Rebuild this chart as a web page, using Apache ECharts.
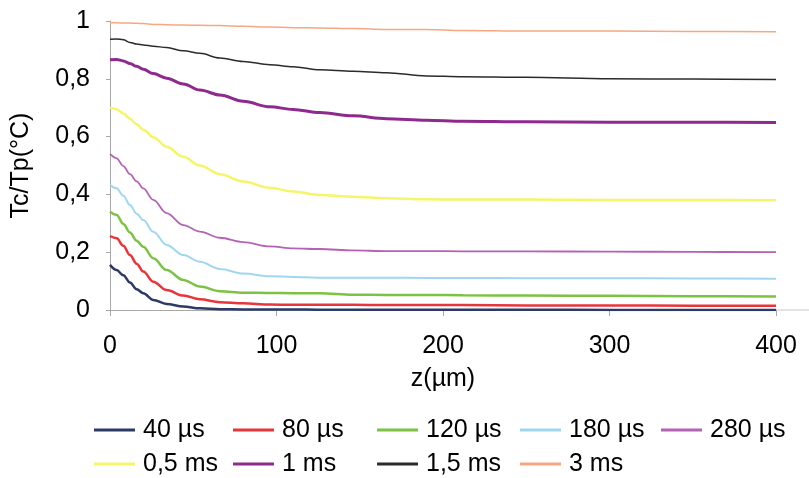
<!DOCTYPE html>
<html>
<head>
<meta charset="utf-8">
<script src="https://cdn.jsdelivr.net/npm/echarts@6/dist/echarts.min.js"></script>
<style>
html,body{margin:0;padding:0;background:#fff;}
#chart{width:809px;height:478px;}
</style>
</head>
<body>
<div id="chart"></div>
<script>
// z positions (µm)
const zValues = [0, 4, 8, 12, 16, 20, 26, 34, 44, 54, 66, 80, 96, 110, 126, 146, 166, 190, 212, 250, 300, 350, 400];

const seriesNames = ['40 µs', '80 µs', '120 µs', '180 µs', '280 µs', '0,5 ms', '1 ms', '1,5 ms', '3 ms'];

const s40us  = [0.156, 0.138, 0.120, 0.095, 0.072, 0.058, 0.035, 0.021, 0.012, 0.006, 0.003, 0.002, 0.002, 0.002, 0.001, 0.001, 0.001, 0.001, 0.001, 0.001, 0.000, 0.000, 0.000];
const s80us  = [0.256, 0.248, 0.222, 0.190, 0.160, 0.133, 0.098, 0.069, 0.050, 0.037, 0.027, 0.023, 0.019, 0.018, 0.018, 0.018, 0.017, 0.017, 0.017, 0.016, 0.016, 0.015, 0.015];
const s120us = [0.340, 0.329, 0.298, 0.268, 0.240, 0.219, 0.179, 0.138, 0.104, 0.081, 0.065, 0.060, 0.059, 0.058, 0.058, 0.053, 0.052, 0.052, 0.051, 0.050, 0.049, 0.048, 0.047];
const s180us = [0.433, 0.421, 0.395, 0.363, 0.333, 0.311, 0.271, 0.225, 0.190, 0.167, 0.142, 0.126, 0.117, 0.114, 0.112, 0.112, 0.112, 0.111, 0.111, 0.110, 0.110, 0.109, 0.108];
const s280us = [0.540, 0.525, 0.498, 0.470, 0.445, 0.421, 0.381, 0.335, 0.294, 0.271, 0.250, 0.235, 0.220, 0.213, 0.211, 0.206, 0.204, 0.204, 0.203, 0.203, 0.202, 0.201, 0.200];
const s05ms  = [0.701, 0.695, 0.680, 0.662, 0.643, 0.624, 0.598, 0.565, 0.530, 0.500, 0.470, 0.445, 0.423, 0.410, 0.398, 0.392, 0.387, 0.383, 0.382, 0.382, 0.381, 0.381, 0.380];
const s1ms   = [0.866, 0.867, 0.862, 0.853, 0.843, 0.833, 0.818, 0.802, 0.782, 0.761, 0.744, 0.722, 0.703, 0.694, 0.683, 0.672, 0.662, 0.657, 0.653, 0.651, 0.650, 0.650, 0.649];
const s15ms  = [0.937, 0.938, 0.935, 0.926, 0.920, 0.917, 0.913, 0.908, 0.897, 0.888, 0.872, 0.860, 0.849, 0.842, 0.831, 0.826, 0.821, 0.810, 0.807, 0.805, 0.800, 0.799, 0.798];
const s3ms   = [0.994, 0.994, 0.993, 0.993, 0.992, 0.991, 0.988, 0.987, 0.986, 0.985, 0.984, 0.982, 0.979, 0.977, 0.976, 0.974, 0.971, 0.971, 0.967, 0.965, 0.965, 0.964, 0.963];

const xTicks = [0, 100, 200, 300, 400];
const yTicks = [0, 0.2, 0.4, 0.6, 0.8, 1];

const allSeries = [s40us, s80us, s120us, s180us, s280us, s05ms, s1ms, s15ms, s3ms];
const colors = ['#2b3a67', '#e8353b', '#7cc243', '#9fd8ee', '#b462b4', '#f6f56a', '#8e2a8e', '#2b2b2b', '#f6a882'];
const widths = [2.5, 2.5, 2.5, 2, 1.8, 2.5, 3, 1.5, 1.5];

const FONT = 'Liberation Sans, Arial, sans-serif';
const TXT = '#000';

const chart = echarts.init(document.getElementById('chart'), null, {renderer: 'canvas'});

const legendPos = [
  [94, 415], [233, 415], [377, 415], [520, 415], [661, 415],
  [94, 449], [233, 449], [377, 449], [520, 449]
];

const legends = seriesNames.map((n, i) => ({
  data: [n],
  left: legendPos[i][0],
  top: legendPos[i][1],
  icon: 'rect',
  itemWidth: 41,
  itemHeight: 3,
  padding: 0,
  itemGap: 0,
  selectedMode: false,
  textStyle: {fontFamily: FONT, fontSize: 25, color: TXT, lineHeight: 30, padding: [0, 0, 0, 3]}
}));

chart.setOption({
  animation: false,
  backgroundColor: '#fff',
  color: colors,
  grid: {left: 110, right: 33, top: 21, bottom: 168, containLabel: false},
  legend: legends,
  xAxis: {
    type: 'value',
    min: xTicks[0],
    max: xTicks[xTicks.length - 1],
    interval: 100,
    name: 'z(µm)',
    nameLocation: 'middle',
    nameGap: 57,
    nameTextStyle: {fontFamily: FONT, fontSize: 25, color: TXT},
    axisLine: {show: true, lineStyle: {color: '#a8a8a8', width: 1}},
    axisTick: {show: true, inside: false, length: 6, lineStyle: {color: '#a8a8a8'}},
    axisLabel: {fontFamily: FONT, fontSize: 25, color: TXT, margin: 24},
    splitLine: {show: false}
  },
  yAxis: {
    type: 'value',
    min: yTicks[0],
    max: yTicks[yTicks.length - 1],
    interval: 0.2,
    name: 'Tc/Tp(°C)',
    nameLocation: 'middle',
    nameGap: 76,
    nameTextStyle: {fontFamily: FONT, fontSize: 25, color: TXT},
    axisLine: {show: true, lineStyle: {color: '#a8a8a8', width: 1}},
    axisTick: {show: true, inside: false, length: 4, lineStyle: {color: '#a8a8a8'}},
    axisLabel: {
      fontFamily: FONT, fontSize: 25, color: TXT, margin: 20,
      formatter: v => String(Math.round(v * 10) / 10).replace('.', ',')
    },
    splitLine: {show: false}
  },
  series: seriesNames.map((n, i) => ({
    name: n,
    type: 'line',
    data: zValues.map((z, k) => [z, allSeries[i][k]]),
    showSymbol: false,
    symbol: 'none',
    smooth: 0.35,
    smoothMonotone: 'x',
    lineStyle: {color: colors[i], width: widths[i]},
    itemStyle: {color: colors[i]},
    z: 2 + i
  }))
});

// faint continuation of the x axis line to the right edge, as in the original figure
const p = chart.convertToPixel({xAxisIndex: 0, yAxisIndex: 0}, [xTicks[xTicks.length - 1], yTicks[0]]);
chart.setOption({
  graphic: [{
    type: 'line',
    shape: {x1: p[0], y1: p[1], x2: 809, y2: p[1]},
    style: {stroke: '#c8c8c8', lineWidth: 1},
    silent: true
  }]
});
</script>
</body>
</html>
